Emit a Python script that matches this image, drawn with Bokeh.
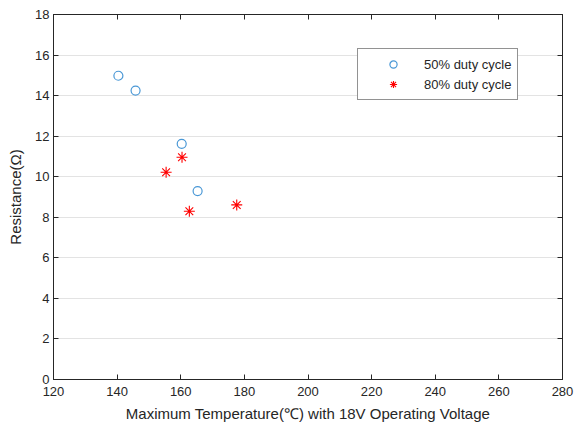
from bokeh.plotting import figure
from bokeh.models import LinearAxis, Range1d, Legend, LegendItem, FixedTicker
from bokeh.embed import file_html
from bokeh.resources import INLINE

# data
temp_50 = [140.4, 145.8, 160.3, 165.3]
res_50 = [14.98, 14.25, 11.62, 9.29]
temp_80 = [155.4, 160.4, 162.7, 177.6]
res_80 = [10.22, 10.96, 8.30, 8.61]
x_ticks = [120, 140, 160, 180, 200, 220, 240, 260, 280]
y_ticks = [0, 2, 4, 6, 8, 10, 12, 14, 16, 18]
labels = ["50% duty cycle", "80% duty cycle"]

FONT = "Liberation Sans"
TXT = "#262626"

p = figure(width=576, height=427, output_backend="svg", toolbar_location=None,
           x_range=Range1d(120, 280), y_range=Range1d(0, 18),
           min_border_left=53, min_border_right=14, min_border_top=14, min_border_bottom=48,
           x_axis_label="Maximum Temperature(\u2103) with 18V Operating Voltage",
           y_axis_label="Resistance(\u03a9)")
p.outline_line_color = TXT
p.outline_line_width = 1

p.xgrid.visible = False
p.ygrid.ticker = FixedTicker(ticks=y_ticks)
p.ygrid.grid_line_color = "#e3e3e3"
p.ygrid.grid_line_width = 1

for ax, ticks in ((p.xaxis[0], x_ticks), (p.yaxis[0], y_ticks)):
    ax.ticker = FixedTicker(ticks=ticks)
    ax.major_tick_in = 5
    ax.major_tick_out = 0
    ax.minor_tick_in = 0
    ax.minor_tick_out = 0
    ax.axis_line_color = TXT
    ax.major_tick_line_color = TXT
    ax.major_label_text_font = FONT
    ax.major_label_text_font_size = "13px"
    ax.major_label_text_color = TXT
    ax.axis_label_text_font = FONT
    ax.axis_label_text_font_size = "15px"
    ax.axis_label_text_font_style = "normal"
    ax.axis_label_text_color = TXT

p.xaxis[0].major_label_standoff = 7
p.xaxis[0].axis_label_standoff = 6
p.yaxis[0].major_label_standoff = 4
p.yaxis[0].axis_label_standoff = 8

for loc, ticks in (("above", x_ticks), ("right", y_ticks)):
    ax = LinearAxis(ticker=FixedTicker(ticks=ticks), major_tick_in=5, major_tick_out=0,
                    minor_tick_in=0, minor_tick_out=0, axis_line_color=TXT,
                    major_tick_line_color=TXT, major_label_text_font_size="1px",
                    major_label_text_color=None, major_label_standoff=0)
    p.add_layout(ax, loc)

r1 = p.scatter(temp_50, res_50, marker="circle", size=9, fill_color=None,
               line_color="#4a98d6", line_width=1.2)
r2 = p.scatter(temp_80, res_80, marker="asterisk", size=11, line_color="#ff0000",
               line_width=1.1)

legend = Legend(items=[LegendItem(label=labels[0], renderers=[r1]),
                       LegendItem(label=labels[1], renderers=[r2])],
                location=(304, 279), padding=6, spacing=2, margin=0,
                glyph_width=58, glyph_height=18, label_height=18, label_standoff=2,
                label_text_font=FONT, label_text_font_size="13px", label_text_color=TXT,
                border_line_color=TXT, border_line_width=1, background_fill_alpha=1)
p.add_layout(legend)

open("out.html", "w").write(file_html(p, INLINE))
